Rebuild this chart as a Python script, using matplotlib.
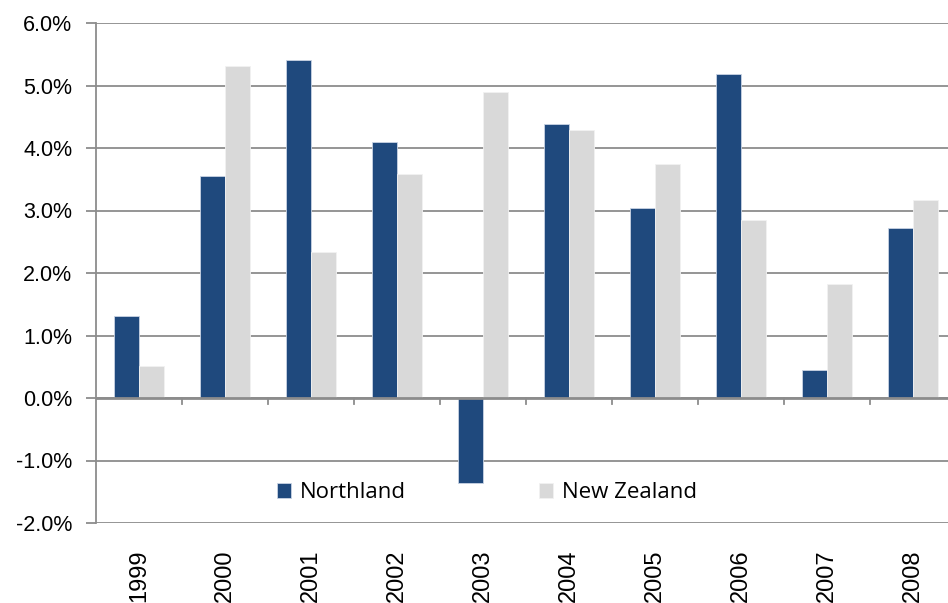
import numpy as np
import matplotlib.pyplot as plt

years = ['1999', '2000', '2001', '2002', '2003', '2004', '2005', '2006', '2007', '2008']
northland = [1.31, 3.55, 5.41, 4.10, -1.36, 4.38, 3.04, 5.18, 0.45, 2.72]
new_zealand = [0.51, 5.31, 2.34, 3.58, 4.90, 4.29, 3.74, 2.85, 1.82, 3.17]
yticks = [-2, -1, 0, 1, 2, 3, 4, 5, 6]

plt.rcParams['font.family'] = ['Liberation Sans', 'DejaVu Sans']

fig = plt.figure(figsize=(9.48, 6.03), dpi=100)
# plot area runs a bit past the right edge, as in the original
ax = fig.add_axes([96/948, 1-523/603, 860/948, 500/603])

x = np.arange(len(years))
w = 0.29
ax.bar(x + 0.5 - w/2, northland, w, color='#1F497D', edgecolor='#C9D4E4', linewidth=0.6,
       label='Northland', zorder=3)
ax.bar(x + 0.5 + w/2, new_zealand, w, color='#D9D9D9', edgecolor='#F2F2F2', linewidth=0.6,
       label='New Zealand', zorder=3)

ax.set_xlim(0, len(years))
ax.set_ylim(-2, 6)
ax.set_yticks(yticks)
ax.set_yticklabels(['%.1f%%' % v for v in yticks], fontsize=15.5)
ax.yaxis.grid(True, color='#8C8C8C', linewidth=1.3, zorder=0)
ax.tick_params(axis='y', length=7, width=1.3, color='#8C8C8C', pad=10)

for s in ['top', 'right', 'bottom']:
    ax.spines[s].set_visible(False)
ax.spines['left'].set_color('#8C8C8C')
ax.spines['left'].set_linewidth(1.3)

# zero line with category tick marks
ax.axhline(0, color='#8C8C8C', linewidth=2, zorder=4)
ax.set_xticks([])
for b in x[1:]:
    ax.plot([b, b], [0, -0.1], color='#8C8C8C', linewidth=1.3, zorder=4, clip_on=False)

for i, yr in enumerate(years):
    ax.text(i + 0.5, -2.42, yr, rotation=90, ha='center', va='top', fontsize=17)

leg = ax.legend(loc='center', bbox_to_anchor=(0.455, 0.06), ncol=2, frameon=False,
                handlelength=0.63, handleheight=0.63, columnspacing=6.0,
                handletextpad=0.4, prop={'family': 'Open Sans', 'size': 16})

fig.savefig('out.png', dpi=100)
